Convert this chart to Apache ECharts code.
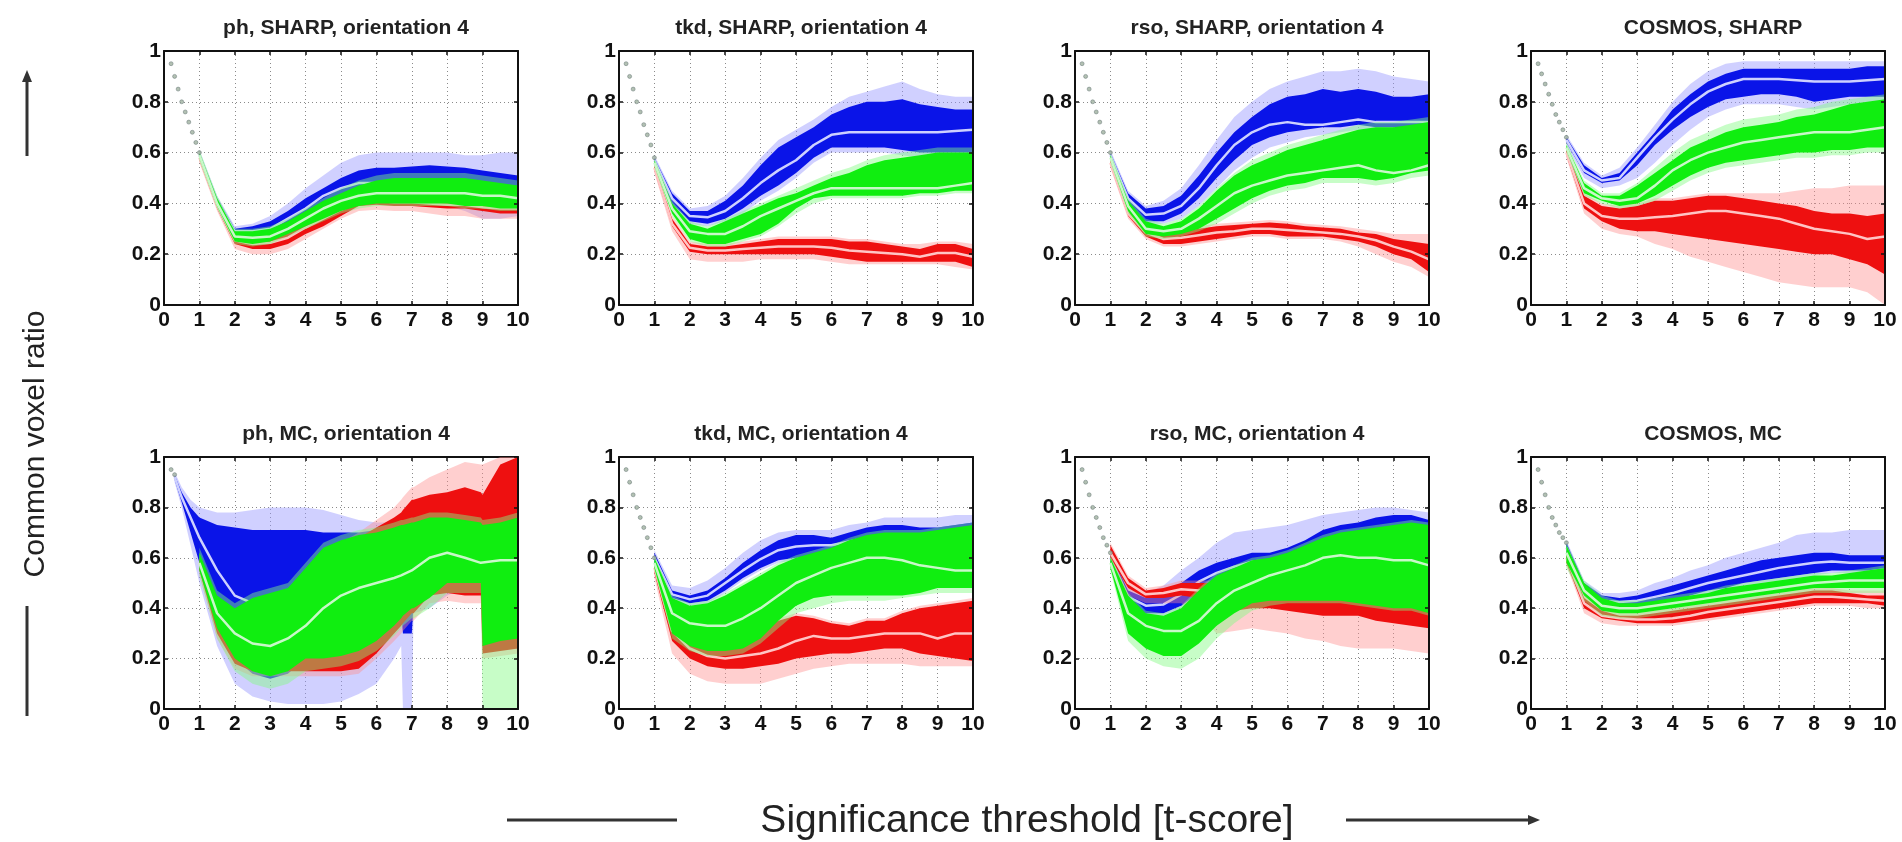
<!DOCTYPE html>
<html><head><meta charset="utf-8">
<script src="https://cdn.jsdelivr.net/npm/echarts@6/dist/echarts.min.js"></script>
<style>html,body{margin:0;padding:0;background:#fff}#c{width:1902px;height:842px}</style>
</head><body><div id="c"></div>
<script>
// ---------- shared axes / categories ----------
const xs = [1,1.5,2,2.5,3,3.5,4,4.5,5,5.5,6,6.5,7,7.5,8,8.5,9,9.5,10];
const xs5 = [0.3,0.5,0.75,1,1.5,2,2.5,3,3.5,4,4.5,5,5.5,6,6.5,6.7,6.75,7.0,7.05,7.5,8,8.5,8.95,9.0,9.5,10];
const xDots = [0.2,0.3,0.4,0.5,0.6,0.7,0.8,0.9,1.0];
const yTickLabels = ['0','0.2','0.4','0.6','0.8','1'];
const panelTitles = ['ph, SHARP, orientation 4','tkd, SHARP, orientation 4','rso, SHARP, orientation 4','COSMOS, SHARP',
                     'ph, MC, orientation 4','tkd, MC, orientation 4','rso, MC, orientation 4','COSMOS, MC'];

// ---------- panel 1: ph, SHARP ----------
const p1_dots = [0.95,0.90,0.85,0.80,0.76,0.72,0.68,0.64,0.60];
const p1_blue_lightHi = [0.61,0.43,0.31,0.32,0.35,0.40,0.46,0.51,0.56,0.59,0.60,0.60,0.60,0.60,0.60,0.59,0.59,0.60,0.60];
const p1_blue_darkHi  = [0.60,0.42,0.30,0.31,0.33,0.37,0.42,0.46,0.50,0.53,0.54,0.54,0.545,0.55,0.545,0.54,0.53,0.52,0.51];
const p1_blue_center  = [0.59,0.41,0.29,0.29,0.30,0.34,0.38,0.43,0.46,0.48,0.48,0.48,0.48,0.485,0.48,0.47,0.45,0.45,0.45];
const p1_blue_darkLo  = [0.58,0.40,0.28,0.27,0.28,0.31,0.35,0.39,0.42,0.43,0.42,0.42,0.42,0.42,0.41,0.40,0.37,0.37,0.38];
const p1_blue_lightLo = [0.57,0.39,0.27,0.26,0.27,0.29,0.33,0.37,0.40,0.41,0.40,0.40,0.40,0.40,0.39,0.37,0.34,0.34,0.35];
const p1_red_lightHi  = [0.60,0.41,0.28,0.27,0.28,0.30,0.34,0.38,0.41,0.43,0.43,0.43,0.43,0.43,0.42,0.42,0.41,0.41,0.41];
const p1_red_darkHi   = [0.59,0.40,0.27,0.26,0.27,0.29,0.33,0.37,0.40,0.42,0.42,0.42,0.42,0.42,0.41,0.41,0.40,0.40,0.40];
const p1_red_center   = [0.58,0.39,0.255,0.24,0.245,0.265,0.305,0.34,0.375,0.405,0.41,0.405,0.405,0.40,0.395,0.395,0.385,0.38,0.38];
const p1_red_darkLo   = [0.57,0.38,0.24,0.22,0.22,0.24,0.28,0.31,0.35,0.39,0.395,0.39,0.39,0.385,0.38,0.38,0.37,0.36,0.36];
const p1_red_lightLo  = [0.56,0.37,0.22,0.20,0.20,0.22,0.26,0.30,0.34,0.37,0.375,0.37,0.37,0.36,0.35,0.35,0.34,0.34,0.34];
const p1_green_lightHi= [0.61,0.43,0.30,0.30,0.31,0.34,0.38,0.42,0.46,0.49,0.51,0.52,0.52,0.52,0.52,0.52,0.51,0.50,0.49];
const p1_green_darkHi = [0.60,0.42,0.29,0.29,0.30,0.33,0.37,0.41,0.44,0.47,0.49,0.50,0.50,0.50,0.50,0.50,0.49,0.48,0.47];
const p1_green_center = [0.59,0.40,0.27,0.265,0.27,0.30,0.34,0.38,0.41,0.43,0.44,0.44,0.44,0.44,0.44,0.44,0.43,0.43,0.42];
const p1_green_darkLo = [0.58,0.39,0.25,0.24,0.25,0.28,0.31,0.34,0.37,0.39,0.40,0.40,0.40,0.40,0.40,0.39,0.39,0.38,0.38];
const p1_green_lightLo= [0.57,0.38,0.24,0.23,0.24,0.27,0.30,0.33,0.36,0.38,0.39,0.39,0.39,0.39,0.39,0.38,0.38,0.37,0.37];

// ---------- panel 2: tkd, SHARP ----------
const p2_dots = [0.95,0.90,0.85,0.80,0.76,0.71,0.67,0.63,0.58];
const p2_blue_lightHi = [0.59,0.45,0.38,0.39,0.43,0.50,0.58,0.65,0.69,0.73,0.78,0.82,0.84,0.86,0.88,0.85,0.83,0.82,0.82];
const p2_blue_darkHi  = [0.58,0.44,0.37,0.37,0.41,0.47,0.55,0.62,0.66,0.70,0.75,0.78,0.80,0.80,0.81,0.79,0.78,0.77,0.77];
const p2_blue_center  = [0.57,0.42,0.35,0.345,0.37,0.42,0.48,0.53,0.57,0.63,0.67,0.68,0.68,0.68,0.68,0.68,0.68,0.685,0.69];
const p2_blue_darkLo  = [0.56,0.40,0.33,0.32,0.34,0.38,0.43,0.47,0.52,0.58,0.62,0.62,0.62,0.62,0.61,0.60,0.60,0.60,0.60];
const p2_blue_lightLo = [0.55,0.39,0.32,0.31,0.33,0.36,0.41,0.45,0.50,0.56,0.60,0.60,0.60,0.60,0.59,0.58,0.58,0.58,0.58];
const p2_red_lightHi  = [0.56,0.35,0.25,0.24,0.24,0.25,0.26,0.27,0.27,0.27,0.27,0.26,0.26,0.25,0.24,0.24,0.25,0.25,0.24];
const p2_red_darkHi   = [0.55,0.34,0.24,0.23,0.23,0.24,0.25,0.26,0.26,0.26,0.26,0.25,0.25,0.24,0.23,0.22,0.24,0.24,0.22];
const p2_red_center   = [0.54,0.32,0.225,0.215,0.215,0.22,0.225,0.23,0.23,0.23,0.225,0.215,0.21,0.205,0.20,0.19,0.205,0.205,0.19];
const p2_red_darkLo   = [0.53,0.31,0.21,0.20,0.20,0.20,0.20,0.20,0.20,0.20,0.19,0.18,0.17,0.17,0.17,0.17,0.17,0.17,0.15];
const p2_red_lightLo  = [0.52,0.29,0.18,0.17,0.17,0.17,0.18,0.18,0.18,0.18,0.17,0.16,0.16,0.16,0.16,0.16,0.16,0.15,0.14];
const p2_green_lightHi= [0.58,0.41,0.33,0.31,0.34,0.37,0.40,0.43,0.46,0.49,0.52,0.54,0.57,0.59,0.60,0.61,0.62,0.62,0.62];
const p2_green_darkHi = [0.57,0.40,0.32,0.30,0.33,0.36,0.39,0.42,0.44,0.47,0.50,0.52,0.55,0.57,0.58,0.59,0.60,0.60,0.60];
const p2_green_center = [0.56,0.38,0.29,0.28,0.28,0.31,0.35,0.38,0.41,0.44,0.46,0.46,0.46,0.46,0.46,0.46,0.46,0.47,0.48];
const p2_green_darkLo = [0.55,0.36,0.26,0.24,0.24,0.26,0.28,0.32,0.38,0.42,0.43,0.43,0.43,0.43,0.43,0.44,0.44,0.45,0.45];
const p2_green_lightLo= [0.54,0.35,0.25,0.23,0.23,0.25,0.27,0.31,0.36,0.40,0.42,0.42,0.42,0.42,0.42,0.43,0.43,0.44,0.44];

// ---------- panel 3: rso, SHARP ----------
const p3_dots = [0.95,0.90,0.85,0.80,0.76,0.72,0.68,0.64,0.60];
const p3_blue_lightHi = [0.61,0.45,0.39,0.41,0.46,0.55,0.65,0.74,0.80,0.85,0.88,0.90,0.92,0.92,0.93,0.92,0.90,0.89,0.88];
const p3_blue_darkHi  = [0.60,0.44,0.38,0.39,0.43,0.51,0.60,0.68,0.74,0.79,0.82,0.83,0.85,0.84,0.85,0.84,0.82,0.82,0.83];
const p3_blue_center  = [0.59,0.42,0.355,0.36,0.39,0.46,0.55,0.63,0.68,0.71,0.72,0.71,0.71,0.72,0.73,0.72,0.72,0.72,0.72];
const p3_blue_darkLo  = [0.58,0.40,0.33,0.33,0.36,0.42,0.50,0.57,0.63,0.66,0.68,0.69,0.70,0.70,0.71,0.70,0.70,0.70,0.70];
const p3_blue_lightLo = [0.57,0.39,0.32,0.32,0.34,0.39,0.46,0.53,0.58,0.62,0.64,0.66,0.67,0.68,0.69,0.68,0.68,0.68,0.68];
const p3_red_lightHi  = [0.58,0.38,0.31,0.29,0.30,0.31,0.32,0.325,0.33,0.335,0.33,0.32,0.315,0.31,0.30,0.29,0.28,0.28,0.28];
const p3_red_darkHi   = [0.57,0.37,0.30,0.28,0.29,0.30,0.31,0.315,0.32,0.325,0.32,0.31,0.305,0.30,0.285,0.28,0.26,0.25,0.24];
const p3_red_center   = [0.56,0.36,0.285,0.26,0.265,0.275,0.285,0.29,0.30,0.30,0.295,0.29,0.285,0.28,0.27,0.255,0.23,0.21,0.18];
const p3_red_darkLo   = [0.55,0.35,0.27,0.24,0.24,0.25,0.26,0.27,0.28,0.28,0.27,0.27,0.27,0.26,0.25,0.23,0.20,0.18,0.13];
const p3_red_lightLo  = [0.54,0.34,0.26,0.23,0.23,0.24,0.25,0.26,0.27,0.27,0.26,0.26,0.26,0.25,0.23,0.20,0.17,0.15,0.11];
const p3_green_lightHi= [0.60,0.42,0.34,0.32,0.34,0.39,0.46,0.52,0.57,0.60,0.63,0.65,0.67,0.69,0.71,0.72,0.72,0.73,0.74];
const p3_green_darkHi = [0.59,0.41,0.33,0.31,0.33,0.38,0.45,0.51,0.55,0.58,0.61,0.63,0.65,0.67,0.69,0.70,0.70,0.71,0.72];
const p3_green_center = [0.58,0.39,0.30,0.29,0.30,0.34,0.39,0.44,0.47,0.49,0.51,0.52,0.53,0.54,0.55,0.53,0.52,0.53,0.55];
const p3_green_darkLo = [0.57,0.37,0.28,0.27,0.28,0.30,0.34,0.38,0.42,0.45,0.47,0.48,0.50,0.50,0.50,0.49,0.50,0.52,0.53];
const p3_green_lightLo= [0.56,0.36,0.27,0.26,0.27,0.29,0.32,0.36,0.40,0.43,0.45,0.46,0.48,0.48,0.48,0.47,0.48,0.50,0.51];

// ---------- panel 4: COSMOS, SHARP ----------
const p4_dots = [0.95,0.91,0.87,0.83,0.79,0.75,0.72,0.69,0.66];
const p4_blue_lightHi = [0.67,0.56,0.51,0.54,0.62,0.71,0.80,0.87,0.92,0.95,0.96,0.96,0.96,0.96,0.96,0.96,0.96,0.96,0.96];
const p4_blue_darkHi  = [0.66,0.55,0.50,0.52,0.60,0.68,0.77,0.83,0.88,0.91,0.93,0.93,0.93,0.93,0.93,0.93,0.93,0.94,0.94];
const p4_blue_center  = [0.65,0.53,0.49,0.50,0.58,0.66,0.73,0.79,0.84,0.87,0.89,0.89,0.89,0.885,0.88,0.88,0.88,0.885,0.89];
const p4_blue_darkLo  = [0.64,0.52,0.48,0.49,0.55,0.63,0.69,0.74,0.78,0.81,0.82,0.83,0.83,0.82,0.80,0.81,0.82,0.82,0.82];
const p4_blue_lightLo = [0.63,0.50,0.46,0.47,0.50,0.56,0.63,0.69,0.74,0.77,0.79,0.79,0.79,0.78,0.77,0.78,0.79,0.79,0.79];
const p4_red_lightHi  = [0.62,0.44,0.40,0.39,0.40,0.42,0.42,0.43,0.44,0.44,0.44,0.44,0.44,0.45,0.46,0.46,0.47,0.47,0.47];
const p4_red_darkHi   = [0.61,0.43,0.39,0.38,0.39,0.41,0.41,0.42,0.43,0.43,0.42,0.41,0.40,0.39,0.37,0.36,0.36,0.35,0.36];
const p4_red_center   = [0.60,0.40,0.35,0.34,0.34,0.345,0.35,0.36,0.37,0.37,0.36,0.35,0.34,0.32,0.30,0.29,0.28,0.26,0.27];
const p4_red_darkLo   = [0.59,0.38,0.33,0.30,0.29,0.29,0.28,0.27,0.26,0.25,0.24,0.23,0.22,0.21,0.20,0.20,0.18,0.16,0.12];
const p4_red_lightLo  = [0.58,0.36,0.30,0.28,0.27,0.24,0.22,0.19,0.17,0.15,0.13,0.11,0.09,0.08,0.07,0.07,0.07,0.05,0.00];
const p4_green_lightHi= [0.64,0.49,0.44,0.44,0.48,0.54,0.60,0.65,0.68,0.71,0.73,0.74,0.75,0.77,0.78,0.80,0.81,0.82,0.83];
const p4_green_darkHi = [0.63,0.48,0.43,0.43,0.47,0.52,0.57,0.62,0.65,0.68,0.70,0.71,0.72,0.74,0.75,0.77,0.79,0.80,0.81];
const p4_green_center = [0.62,0.46,0.42,0.41,0.42,0.47,0.53,0.57,0.60,0.62,0.64,0.65,0.66,0.67,0.68,0.68,0.68,0.69,0.70];
const p4_green_darkLo = [0.61,0.44,0.41,0.39,0.40,0.43,0.47,0.51,0.54,0.56,0.57,0.58,0.59,0.60,0.60,0.61,0.61,0.62,0.62];
const p4_green_lightLo= [0.60,0.43,0.40,0.38,0.39,0.41,0.45,0.49,0.52,0.54,0.55,0.56,0.57,0.58,0.58,0.59,0.59,0.60,0.60];

// ---------- panel 5: ph, MC (own, finer x grid: xs5) ----------
const p5_dots = [0.95,0.93,null,null,null,null,null,null,null];
const p5_blue_lightHi = [0.94,0.88,0.83,0.80,0.78,0.78,0.79,0.80,0.80,0.80,0.79,0.77,0.75,0.74,0.74,0.74,0.74,0.75,0.75,0.77,0.79,0.80,0.80,0.80,0.81,0.81];
const p5_blue_darkHi  = [0.93,0.86,0.80,0.76,0.73,0.72,0.71,0.71,0.71,0.71,0.70,0.70,0.70,0.71,0.72,0.72,0.72,0.73,0.73,0.75,0.77,0.78,0.78,0.78,0.79,0.79];
const p5_blue_center  = [0.92,0.84,0.76,0.68,0.55,0.45,0.42,0.42,0.44,0.47,0.50,0.52,0.54,0.56,0.58,0.59,0.59,0.60,0.60,0.62,0.64,0.65,0.66,0.66,0.67,0.68];
const p5_blue_darkLo  = [0.91,0.82,0.70,0.58,0.35,0.20,0.14,0.12,0.14,0.20,0.22,0.24,0.27,0.32,0.36,0.38,0.30,0.30,0.42,0.45,0.50,0.52,0.50,0.50,0.52,0.55];
const p5_blue_lightLo = [0.90,0.80,0.65,0.50,0.25,0.10,0.05,0.03,0.02,0.02,0.02,0.03,0.06,0.10,0.20,0.25,0.00,0.00,0.38,0.40,0.45,0.48,0.46,0.46,0.48,0.50];
const p5_red_lightHi  = [null,null,null,0.62,0.44,0.38,0.40,0.42,0.46,0.52,0.60,0.66,0.70,0.75,0.80,0.83,0.84,0.88,0.88,0.92,0.95,0.98,0.97,0.97,1.00,1.00];
const p5_red_darkHi   = [null,null,null,0.60,0.42,0.36,0.38,0.40,0.44,0.50,0.58,0.64,0.68,0.72,0.76,0.78,0.79,0.83,0.83,0.85,0.86,0.88,0.86,0.85,0.97,1.00];
const p5_red_center   = [null,null,null,0.58,0.36,0.27,0.26,0.27,0.30,0.33,0.37,0.40,0.42,0.47,0.53,0.56,0.57,0.60,0.60,0.65,0.66,0.67,0.60,0.53,0.60,0.62];
const p5_red_darkLo   = [null,null,null,0.55,0.30,0.18,0.15,0.15,0.15,0.15,0.15,0.15,0.16,0.22,0.30,0.33,0.34,0.38,0.38,0.45,0.46,0.45,0.45,0.22,0.23,0.24];
const p5_red_lightLo  = [null,null,null,0.53,0.28,0.16,0.13,0.13,0.13,0.13,0.13,0.13,0.14,0.20,0.27,0.30,0.31,0.35,0.35,0.42,0.43,0.42,0.42,0.20,0.21,0.22];
const p5_green_lightHi= [null,null,null,0.64,0.47,0.42,0.46,0.48,0.50,0.58,0.66,0.69,0.71,0.72,0.74,0.75,0.75,0.76,0.76,0.78,0.78,0.77,0.76,0.75,0.76,0.78];
const p5_green_darkHi = [null,null,null,0.62,0.45,0.40,0.44,0.46,0.48,0.56,0.64,0.67,0.69,0.70,0.72,0.73,0.73,0.74,0.74,0.76,0.76,0.75,0.74,0.73,0.74,0.76];
const p5_green_center = [null,null,null,0.58,0.38,0.30,0.26,0.25,0.28,0.33,0.40,0.45,0.48,0.50,0.52,0.53,0.53,0.55,0.55,0.60,0.62,0.60,0.58,0.58,0.59,0.59];
const p5_green_darkLo = [null,null,null,0.55,0.32,0.20,0.15,0.13,0.15,0.20,0.20,0.21,0.23,0.27,0.33,0.36,0.37,0.40,0.40,0.44,0.50,0.50,0.50,0.25,0.27,0.28];
const p5_green_lightLo= [null,null,null,0.53,0.28,0.15,0.10,0.08,0.10,0.15,0.16,0.17,0.19,0.23,0.29,0.32,0.33,0.36,0.36,0.40,0.46,0.46,0.46,0.00,0.00,0.00];

// ---------- panel 6: tkd, MC ----------
const p6_dots = [0.95,0.90,0.85,0.80,0.76,0.72,0.68,0.64,0.60];
const p6_blue_lightHi = [0.63,0.49,0.48,0.51,0.56,0.62,0.67,0.70,0.71,0.71,0.71,0.73,0.74,0.76,0.76,0.76,0.76,0.77,0.77];
const p6_blue_darkHi  = [0.62,0.47,0.45,0.47,0.52,0.58,0.63,0.67,0.69,0.69,0.68,0.70,0.72,0.73,0.73,0.72,0.72,0.73,0.74];
const p6_blue_center  = [0.60,0.455,0.435,0.45,0.50,0.55,0.595,0.63,0.645,0.65,0.65,0.665,0.68,0.69,0.69,0.68,0.68,0.69,0.70];
const p6_blue_darkLo  = [0.58,0.44,0.42,0.43,0.47,0.52,0.56,0.59,0.60,0.61,0.62,0.63,0.64,0.65,0.65,0.64,0.64,0.65,0.66];
const p6_blue_lightLo = [0.57,0.43,0.41,0.42,0.46,0.51,0.55,0.58,0.59,0.60,0.61,0.62,0.63,0.64,0.64,0.63,0.63,0.64,0.65];
const p6_red_lightHi  = [0.58,0.36,0.29,0.26,0.25,0.26,0.33,0.36,0.38,0.37,0.35,0.34,0.36,0.36,0.39,0.41,0.42,0.43,0.44];
const p6_red_darkHi   = [0.57,0.35,0.28,0.25,0.24,0.25,0.32,0.35,0.37,0.36,0.34,0.33,0.35,0.35,0.38,0.40,0.41,0.42,0.43];
const p6_red_center   = [0.56,0.31,0.24,0.21,0.20,0.21,0.22,0.24,0.27,0.29,0.28,0.28,0.29,0.30,0.30,0.30,0.28,0.30,0.30];
const p6_red_darkLo   = [0.54,0.27,0.20,0.17,0.16,0.16,0.17,0.18,0.20,0.21,0.22,0.22,0.23,0.24,0.24,0.22,0.21,0.20,0.19];
const p6_red_lightLo  = [0.52,0.22,0.14,0.11,0.10,0.10,0.10,0.12,0.14,0.16,0.17,0.18,0.18,0.18,0.18,0.17,0.17,0.17,0.17];
const p6_green_lightHi= [0.61,0.45,0.42,0.43,0.46,0.50,0.54,0.58,0.61,0.63,0.65,0.68,0.70,0.71,0.71,0.71,0.72,0.73,0.74];
const p6_green_darkHi = [0.60,0.44,0.41,0.42,0.45,0.49,0.53,0.57,0.60,0.62,0.64,0.67,0.69,0.70,0.70,0.70,0.71,0.72,0.73];
const p6_green_center = [0.58,0.38,0.34,0.33,0.33,0.36,0.40,0.45,0.50,0.53,0.56,0.58,0.60,0.60,0.59,0.57,0.56,0.55,0.55];
const p6_green_darkLo = [0.56,0.30,0.25,0.23,0.23,0.24,0.28,0.35,0.41,0.44,0.45,0.45,0.45,0.45,0.45,0.46,0.48,0.48,0.48];
const p6_green_lightLo= [0.55,0.28,0.23,0.21,0.21,0.22,0.26,0.32,0.38,0.40,0.42,0.43,0.43,0.43,0.44,0.45,0.46,0.46,0.46];

// ---------- panel 7: rso, MC ----------
const p7_dots = [0.95,0.90,0.85,0.80,0.76,0.72,0.68,0.65,0.62];
const p7_blue_lightHi = [0.63,0.48,0.46,0.49,0.55,0.60,0.66,0.70,0.71,0.72,0.73,0.75,0.77,0.78,0.79,0.80,0.80,0.79,0.78];
const p7_blue_darkHi  = [0.62,0.47,0.44,0.45,0.50,0.55,0.58,0.60,0.62,0.62,0.64,0.67,0.71,0.73,0.74,0.76,0.77,0.77,0.75];
const p7_blue_center  = [0.60,0.445,0.41,0.415,0.455,0.505,0.54,0.565,0.585,0.59,0.605,0.625,0.655,0.67,0.68,0.69,0.695,0.695,0.685];
const p7_blue_darkLo  = [0.58,0.42,0.38,0.38,0.41,0.46,0.50,0.53,0.55,0.56,0.57,0.58,0.60,0.61,0.62,0.62,0.62,0.62,0.62];
const p7_blue_lightLo = [0.57,0.41,0.37,0.37,0.40,0.45,0.49,0.52,0.54,0.55,0.56,0.57,0.59,0.60,0.61,0.61,0.61,0.61,0.61];
const p7_red_lightHi  = [0.66,0.53,0.48,0.49,0.51,0.51,0.51,0.51,0.51,0.52,0.53,0.53,0.54,0.54,0.55,0.55,0.55,0.56,0.56];
const p7_red_darkHi   = [0.65,0.52,0.47,0.48,0.50,0.50,0.50,0.50,0.50,0.51,0.52,0.52,0.53,0.53,0.54,0.54,0.54,0.55,0.55];
const p7_red_center   = [0.62,0.50,0.455,0.46,0.475,0.47,0.45,0.445,0.45,0.455,0.455,0.45,0.45,0.45,0.455,0.445,0.44,0.44,0.435];
const p7_red_darkLo   = [0.60,0.48,0.44,0.44,0.45,0.44,0.40,0.39,0.40,0.40,0.39,0.38,0.37,0.37,0.37,0.35,0.34,0.33,0.32];
const p7_red_lightLo  = [0.58,0.45,0.42,0.42,0.42,0.38,0.30,0.31,0.32,0.31,0.30,0.28,0.27,0.25,0.24,0.24,0.24,0.23,0.22];
const p7_green_lightHi= [0.61,0.46,0.39,0.38,0.41,0.48,0.54,0.57,0.60,0.61,0.63,0.66,0.69,0.71,0.72,0.73,0.74,0.75,0.74];
const p7_green_darkHi = [0.60,0.45,0.38,0.37,0.40,0.47,0.53,0.56,0.59,0.60,0.62,0.65,0.68,0.70,0.71,0.72,0.73,0.74,0.73];
const p7_green_center = [0.58,0.38,0.33,0.31,0.31,0.35,0.42,0.47,0.50,0.53,0.55,0.57,0.60,0.61,0.60,0.60,0.59,0.59,0.57];
const p7_green_darkLo = [0.56,0.30,0.24,0.21,0.21,0.26,0.33,0.38,0.42,0.43,0.43,0.43,0.43,0.43,0.42,0.41,0.40,0.40,0.38];
const p7_green_lightLo= [0.55,0.27,0.20,0.17,0.16,0.20,0.28,0.34,0.39,0.41,0.42,0.42,0.42,0.42,0.41,0.40,0.39,0.39,0.37];

// ---------- panel 8: COSMOS, MC ----------
const p8_dots = [0.95,0.90,0.85,0.80,0.76,0.73,0.70,0.68,0.66];
const p8_blue_lightHi = [0.67,0.51,0.46,0.46,0.47,0.50,0.52,0.55,0.57,0.60,0.62,0.64,0.66,0.69,0.70,0.70,0.71,0.71,0.71];
const p8_blue_darkHi  = [0.66,0.50,0.45,0.44,0.45,0.47,0.49,0.51,0.53,0.55,0.57,0.59,0.60,0.61,0.62,0.62,0.61,0.61,0.61];
const p8_blue_center  = [0.64,0.48,0.43,0.425,0.43,0.445,0.46,0.48,0.50,0.515,0.53,0.545,0.56,0.57,0.58,0.585,0.58,0.58,0.58];
const p8_blue_darkLo  = [0.62,0.46,0.42,0.41,0.41,0.42,0.43,0.45,0.47,0.48,0.50,0.51,0.52,0.53,0.54,0.55,0.55,0.55,0.56];
const p8_blue_lightLo = [0.61,0.45,0.41,0.40,0.40,0.41,0.42,0.44,0.46,0.47,0.49,0.50,0.51,0.52,0.53,0.54,0.54,0.54,0.55];
const p8_red_lightHi  = [0.63,0.45,0.40,0.38,0.38,0.39,0.40,0.41,0.42,0.43,0.44,0.45,0.46,0.47,0.48,0.48,0.47,0.47,0.47];
const p8_red_darkHi   = [0.62,0.44,0.39,0.37,0.37,0.38,0.39,0.40,0.41,0.42,0.43,0.44,0.45,0.46,0.47,0.47,0.46,0.45,0.45];
const p8_red_center   = [0.60,0.42,0.37,0.36,0.355,0.355,0.36,0.37,0.385,0.395,0.405,0.415,0.425,0.435,0.445,0.445,0.44,0.435,0.43];
const p8_red_darkLo   = [0.58,0.40,0.36,0.35,0.34,0.34,0.34,0.35,0.36,0.37,0.38,0.39,0.40,0.41,0.42,0.42,0.42,0.42,0.41];
const p8_red_lightLo  = [0.57,0.38,0.34,0.33,0.33,0.33,0.33,0.34,0.35,0.36,0.37,0.38,0.39,0.40,0.41,0.41,0.41,0.40,0.40];
const p8_green_lightHi= [0.66,0.51,0.45,0.43,0.43,0.44,0.45,0.46,0.47,0.49,0.50,0.51,0.52,0.53,0.54,0.54,0.55,0.56,0.57];
const p8_green_darkHi = [0.65,0.50,0.44,0.42,0.42,0.43,0.44,0.45,0.46,0.48,0.49,0.50,0.51,0.52,0.53,0.53,0.54,0.55,0.56];
const p8_green_center = [0.62,0.47,0.41,0.40,0.40,0.41,0.42,0.43,0.44,0.45,0.46,0.47,0.48,0.49,0.50,0.505,0.51,0.51,0.51];
const p8_green_darkLo = [0.58,0.45,0.39,0.38,0.38,0.39,0.40,0.41,0.42,0.43,0.44,0.45,0.46,0.47,0.48,0.48,0.48,0.48,0.48];
const p8_green_lightLo= [0.56,0.43,0.37,0.36,0.36,0.37,0.38,0.39,0.40,0.41,0.42,0.43,0.44,0.45,0.46,0.46,0.46,0.46,0.46];

// ---------- table built from the arrays ----------
function grp(lightHi, darkHi, center, darkLo, lightLo){ return {lightHi, darkHi, center, darkLo, lightLo}; }
const panels = [
  {x:xs,  dots:p1_dots, blue:grp(p1_blue_lightHi,p1_blue_darkHi,p1_blue_center,p1_blue_darkLo,p1_blue_lightLo), red:grp(p1_red_lightHi,p1_red_darkHi,p1_red_center,p1_red_darkLo,p1_red_lightLo), green:grp(p1_green_lightHi,p1_green_darkHi,p1_green_center,p1_green_darkLo,p1_green_lightLo)},
  {x:xs,  dots:p2_dots, blue:grp(p2_blue_lightHi,p2_blue_darkHi,p2_blue_center,p2_blue_darkLo,p2_blue_lightLo), red:grp(p2_red_lightHi,p2_red_darkHi,p2_red_center,p2_red_darkLo,p2_red_lightLo), green:grp(p2_green_lightHi,p2_green_darkHi,p2_green_center,p2_green_darkLo,p2_green_lightLo)},
  {x:xs,  dots:p3_dots, blue:grp(p3_blue_lightHi,p3_blue_darkHi,p3_blue_center,p3_blue_darkLo,p3_blue_lightLo), red:grp(p3_red_lightHi,p3_red_darkHi,p3_red_center,p3_red_darkLo,p3_red_lightLo), green:grp(p3_green_lightHi,p3_green_darkHi,p3_green_center,p3_green_darkLo,p3_green_lightLo)},
  {x:xs,  dots:p4_dots, blue:grp(p4_blue_lightHi,p4_blue_darkHi,p4_blue_center,p4_blue_darkLo,p4_blue_lightLo), red:grp(p4_red_lightHi,p4_red_darkHi,p4_red_center,p4_red_darkLo,p4_red_lightLo), green:grp(p4_green_lightHi,p4_green_darkHi,p4_green_center,p4_green_darkLo,p4_green_lightLo)},
  {x:xs5, dots:p5_dots, blue:grp(p5_blue_lightHi,p5_blue_darkHi,p5_blue_center,p5_blue_darkLo,p5_blue_lightLo), red:grp(p5_red_lightHi,p5_red_darkHi,p5_red_center,p5_red_darkLo,p5_red_lightLo), green:grp(p5_green_lightHi,p5_green_darkHi,p5_green_center,p5_green_darkLo,p5_green_lightLo)},
  {x:xs,  dots:p6_dots, blue:grp(p6_blue_lightHi,p6_blue_darkHi,p6_blue_center,p6_blue_darkLo,p6_blue_lightLo), red:grp(p6_red_lightHi,p6_red_darkHi,p6_red_center,p6_red_darkLo,p6_red_lightLo), green:grp(p6_green_lightHi,p6_green_darkHi,p6_green_center,p6_green_darkLo,p6_green_lightLo)},
  {x:xs,  dots:p7_dots, blue:grp(p7_blue_lightHi,p7_blue_darkHi,p7_blue_center,p7_blue_darkLo,p7_blue_lightLo), red:grp(p7_red_lightHi,p7_red_darkHi,p7_red_center,p7_red_darkLo,p7_red_lightLo), green:grp(p7_green_lightHi,p7_green_darkHi,p7_green_center,p7_green_darkLo,p7_green_lightLo)},
  {x:xs,  dots:p8_dots, blue:grp(p8_blue_lightHi,p8_blue_darkHi,p8_blue_center,p8_blue_darkLo,p8_blue_lightLo), red:grp(p8_red_lightHi,p8_red_darkHi,p8_red_center,p8_red_darkLo,p8_red_lightLo), green:grp(p8_green_lightHi,p8_green_darkHi,p8_green_center,p8_green_darkLo,p8_green_lightLo)}
];

// ---------- styling ----------
const FONT = '"Liberation Sans", Arial, Helvetica, sans-serif';
const COLORS = {
  blue:  {light:'rgba(150,150,255,0.45)', dark:'#0a14e8', center:'#cdd0ff'},
  red:   {light:'rgba(255,140,140,0.42)', dark:'#ee1010', center:'#ffc4c4'},
  green: {light:'rgba(130,250,130,0.45)', dark:'#10ee10', center:'#c8f8c8'}
};
const colLeft = [164, 619, 1075, 1531];
const rowTop = [51, 457];
const rowH = [254, 252];
const plotW = 354;
const TICK_FS = 21;

const grids = [], xAxes = [], yAxes = [], series = [], titles = [];

function band(gi, X, lo, hi, fill, z){
  const data = [];
  X.forEach((x,i)=>{ if (lo[i] != null && hi[i] != null) data.push([x, lo[i], hi[i]]); });
  return {
    type:'custom', xAxisIndex:gi*2, yAxisIndex:gi*2, z, silent:true, animation:false,
    data, encode:{x:0, y:[1,2]},
    renderItem(params, api){
      if (params.dataIndex !== 0) return null;
      const top = data.map(d=>api.coord([d[0], d[2]]));
      const bot = data.map(d=>api.coord([d[0], d[1]])).reverse();
      return {type:'polygon', shape:{points: top.concat(bot)}, style:{fill, stroke:null}};
    }
  };
}

panels.forEach((p, gi)=>{
  const r = gi < 4 ? 0 : 1, c = gi % 4;
  grids.push({left:colLeft[c], top:rowTop[r], width:plotW, height:rowH[r], containLabel:false});
  titles.push({text:panelTitles[gi], left:colLeft[c] + plotW/2, top:rowTop[r]-38, textAlign:'center',
    textStyle:{fontFamily:FONT, fontSize:21, fontWeight:'bold', color:'#222'}});
  xAxes.push({gridIndex:gi, type:'value', min:0, max:10, interval:1, position:'bottom', z:30,
    axisLine:{show:true, onZero:false, lineStyle:{color:'#111', width:2}},
    axisTick:{show:true, inside:true, length:4, lineStyle:{color:'#111', width:1.5}},
    axisLabel:{fontFamily:FONT, fontSize:TICK_FS, fontWeight:'bold', color:'#111', margin:5},
    splitLine:{show:false}});
  xAxes.push({gridIndex:gi, type:'value', min:0, max:10, interval:1, position:'top', z:0,
    axisLine:{show:true, onZero:false, lineStyle:{color:'#111', width:2}},
    axisTick:{show:true, inside:true, length:4, lineStyle:{color:'#111', width:1.5}},
    axisLabel:{show:false},
    splitLine:{show:true, lineStyle:{color:'#8a8a8a', width:1, type:[1,3]}}});
  yAxes.push({gridIndex:gi, type:'value', min:0, max:1, interval:0.2, position:'left', z:0,
    axisLine:{show:true, onZero:false, lineStyle:{color:'#111', width:2}},
    axisTick:{show:true, inside:true, length:4, lineStyle:{color:'#111', width:1.5}},
    axisLabel:{fontFamily:FONT, fontSize:TICK_FS, fontWeight:'bold', color:'#111', margin:3,
      formatter:v=>yTickLabels[Math.round(v/0.2)]},
    splitLine:{show:true, lineStyle:{color:'#8a8a8a', width:1, type:[1,3]}}});
  yAxes.push({gridIndex:gi, type:'value', min:0, max:1, interval:0.2, position:'right', z:30,
    axisLine:{show:true, onZero:false, lineStyle:{color:'#111', width:2}},
    axisTick:{show:true, inside:true, length:4, lineStyle:{color:'#111', width:1.5}},
    axisLabel:{show:false}, splitLine:{show:false}});

  let z = 2;
  ['blue','red','green'].forEach(name=>{
    const g = p[name], col = COLORS[name];
    series.push(band(gi, p.x, g.lightLo, g.lightHi, col.light, z++));
    series.push(band(gi, p.x, g.darkLo, g.darkHi, col.dark, z++));
    series.push({type:'line', xAxisIndex:gi*2, yAxisIndex:gi*2, z:z++, silent:true, animation:false,
      data: p.x.map((x,i)=>[x, g.center[i] == null ? '-' : g.center[i]]), symbol:'none', connectNulls:false,
      lineStyle:{color:col.center, width:2.5}});
  });
  const dotData = [];
  xDots.forEach((x,i)=>{ if (p.dots[i] != null) dotData.push([x, p.dots[i]]); });
  series.push({type:'scatter', xAxisIndex:gi*2, yAxisIndex:gi*2, z:z++, silent:true, animation:false,
    data: dotData, symbol:'circle', symbolSize:4,
    itemStyle:{color:'#9fb09f', borderColor:'#5f6f6f', borderWidth:0.6}});
});

const chart = echarts.init(document.getElementById('c'), null, {renderer:'canvas'});
chart.setOption({
  animation:false,
  backgroundColor:'#ffffff',
  title: titles,
  grid: grids,
  xAxis: xAxes,
  yAxis: yAxes,
  series,
  graphic: [
    {type:'line', shape:{x1:27, y1:156, x2:27, y2:78}, style:{stroke:'#333', lineWidth:3}},
    {type:'polygon', shape:{points:[[27,70],[22,82],[32,82]]}, style:{fill:'#333'}},
    {type:'text', x:36, y:444, rotation:Math.PI/2,
      style:{text:'Common voxel ratio', font:'30px ' + FONT, fill:'#222', align:'center', verticalAlign:'middle'}},
    {type:'line', shape:{x1:27, y1:606, x2:27, y2:716}, style:{stroke:'#333', lineWidth:3}},
    {type:'line', shape:{x1:507, y1:820, x2:677, y2:820}, style:{stroke:'#333', lineWidth:3}},
    {type:'text', x:1027, y:821,
      style:{text:'Significance threshold [t-score]', font:'39px ' + FONT, fill:'#222', align:'center', verticalAlign:'middle'}},
    {type:'line', shape:{x1:1346, y1:820, x2:1530, y2:820}, style:{stroke:'#333', lineWidth:3}},
    {type:'polygon', shape:{points:[[1540,820],[1528,815],[1528,825]]}, style:{fill:'#333'}}
  ]
});
</script>
</body></html>
